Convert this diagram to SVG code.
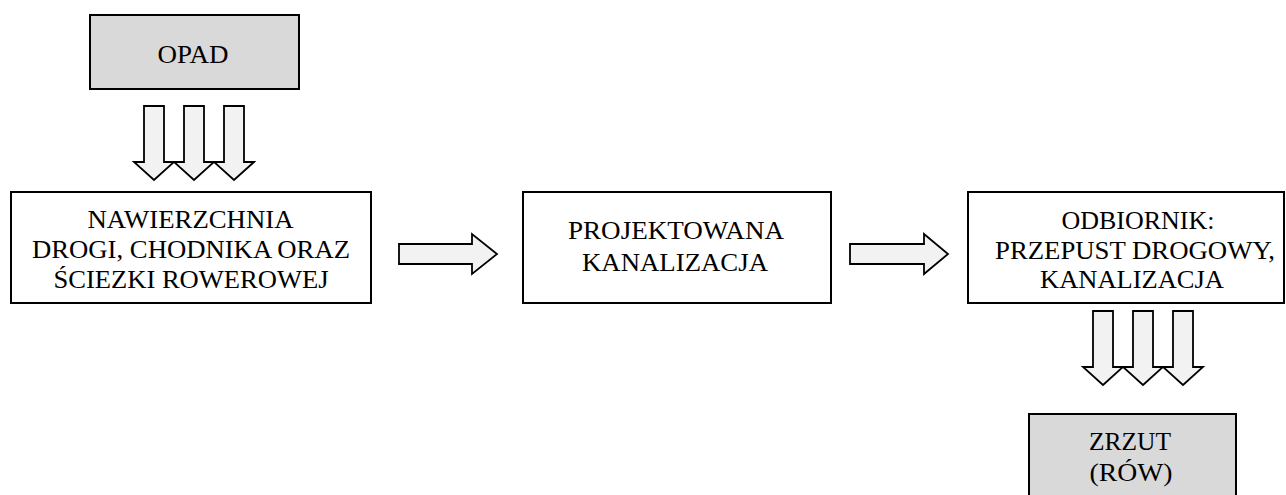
<svg xmlns="http://www.w3.org/2000/svg" width="1286" height="495" viewBox="0 0 1286 495" font-family="Liberation Serif, Times New Roman, serif" font-size="25" text-anchor="middle">
<style>
.box{fill:#ffffff;stroke:#000;stroke-width:2}
.grey{fill:#d9d9d9;stroke:#000;stroke-width:2}
.arr{fill:#f2f2f2;stroke:#000;stroke-width:1.8;stroke-linejoin:miter}
.t{fill:#000}
</style>
<defs>
<polygon id="down" class="arr" points="-10,0 10,0 10,56 20,56 0,74 -20,56 -10,56"/>
</defs>
<g id="opad">
<rect class="grey" x="90" y="15" width="209" height="74"/>
<text class="t" x="193" y="63" textLength="71" lengthAdjust="spacingAndGlyphs">OPAD</text>
</g>
<g id="nawierzchnia">
<rect class="box" x="11" y="192" width="360" height="111"/>
<text class="t" x="190.5" y="228" textLength="206" lengthAdjust="spacingAndGlyphs">NAWIERZCHNIA</text>
<text class="t" x="191" y="258" textLength="318" lengthAdjust="spacingAndGlyphs">DROGI, CHODNIKA ORAZ</text>
<text class="t" x="191" y="288" textLength="275" lengthAdjust="spacingAndGlyphs">ŚCIEZKI ROWEROWEJ</text>
</g>
<g id="kanalizacja">
<rect class="box" x="523" y="192" width="308" height="111"/>
<text class="t" x="676" y="239" textLength="216" lengthAdjust="spacingAndGlyphs">PROJEKTOWANA</text>
<text class="t" x="675" y="271" textLength="186" lengthAdjust="spacingAndGlyphs">KANALIZACJA</text>
</g>
<g id="odbiornik">
<rect class="box" x="968" y="192" width="316" height="111"/>
<text class="t" x="1138" y="229" textLength="153" lengthAdjust="spacingAndGlyphs">ODBIORNIK:</text>
<text class="t" x="1135" y="259" textLength="280" lengthAdjust="spacingAndGlyphs">PRZEPUST DROGOWY,</text>
<text class="t" x="1132" y="288" textLength="184" lengthAdjust="spacingAndGlyphs">KANALIZACJA</text>
</g>
<g id="zrzut">
<rect class="grey" x="1029" y="414" width="207" height="100"/>
<text class="t" x="1130" y="450" textLength="82" lengthAdjust="spacingAndGlyphs">ZRZUT</text>
<text class="t" x="1131" y="481" textLength="83" lengthAdjust="spacingAndGlyphs">(RÓW)</text>
</g>
<g id="connectors">
<use href="#down" x="154" y="106"/>
<use href="#down" x="194" y="106"/>
<use href="#down" x="234" y="106"/>
<polygon class="arr" points="399,244 472,244 472,234 497,254 472,274 472,264 399,264"/>
<polygon class="arr" points="850,244 924,244 924,234 948,254 924,274 924,264 850,264"/>
<use href="#down" x="1103" y="311"/>
<use href="#down" x="1143" y="311"/>
<use href="#down" x="1183" y="311"/>
</g>
</svg>
